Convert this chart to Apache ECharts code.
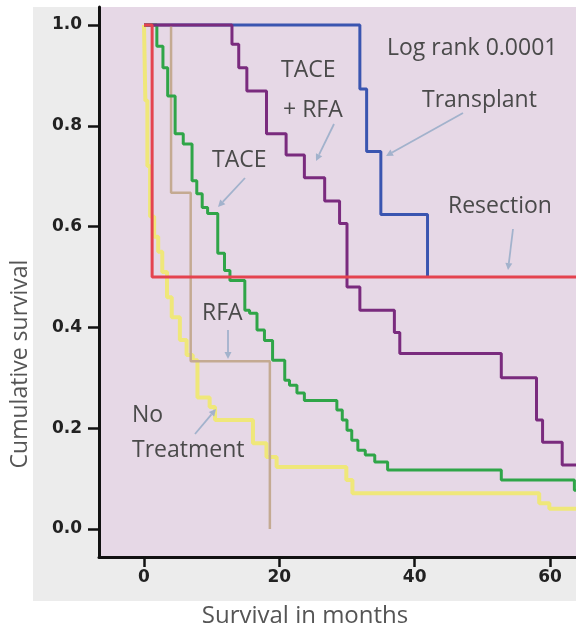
<!DOCTYPE html>
<html>
<head>
<meta charset="utf-8">
<script src="https://cdn.jsdelivr.net/npm/echarts@6/dist/echarts.min.js"></script>
<style>html,body{margin:0;padding:0;background:#fff}#c{width:576px;height:629px}</style>
</head>
<body>
<div id="c"></div>
<script>
// ---- data (months, cumulative survival) ----
const xTicks = [0, 20, 40, 60];
const yTicks = [0, 0.2, 0.4, 0.6, 0.8, 1.0];

const transplantT = [0, 31.9, 32.9, 35.0, 41.9];
const transplantS = [1, 0.873, 0.749, 0.624, 0.5];

const resectionT = [0, 1.2, 63.84];
const resectionS = [1, 0.5, 0.5];

const taceRfaT = [0, 13.0, 14.0, 15.2, 18.1, 21.0, 23.7, 26.7, 28.9, 30.0, 31.9, 37.0, 37.8, 52.8, 58.0, 58.9, 61.8, 63.84];
const taceRfaS = [1, 0.962, 0.915, 0.869, 0.784, 0.742, 0.697, 0.651, 0.606, 0.48, 0.434, 0.39, 0.348, 0.30, 0.216, 0.172, 0.127, 0.127];

const taceT = [0, 1.9, 2.8, 3.5, 4.6, 5.8, 7.1, 7.8, 8.6, 9.4, 10.9, 11.9, 12.7, 14.9, 15.6, 16.7, 17.8, 19.0, 20.8, 21.5, 22.6, 23.7, 28.5, 29.3, 30.0, 30.7, 31.6, 32.7, 34.1, 36.0, 52.8, 63.6, 63.84];
const taceS = [1, 0.958, 0.915, 0.859, 0.784, 0.764, 0.691, 0.665, 0.638, 0.626, 0.547, 0.513, 0.493, 0.434, 0.428, 0.395, 0.374, 0.335, 0.295, 0.285, 0.27, 0.255, 0.236, 0.216, 0.196, 0.176, 0.156, 0.147, 0.133, 0.117, 0.097, 0.077, 0.077];

const rfaT = [0, 4.0, 6.9, 18.6];
const rfaS = [1, 0.667, 0.333, 0];

const noTxT = [0, 0.2, 0.5, 0.9, 1.5, 2.1, 2.7, 3.4, 4.1, 5.3, 6.3, 7.2, 7.9, 9.7, 10.5, 16.1, 18.1, 19.6, 29.9, 30.8, 58.4, 59.9, 61.5, 63.84];
const noTxS = [1, 0.85, 0.72, 0.62, 0.58, 0.55, 0.51, 0.46, 0.42, 0.375, 0.345, 0.335, 0.261, 0.242, 0.216, 0.17, 0.143, 0.123, 0.097, 0.071, 0.051, 0.04, 0.04, 0.04];

const zip = (t, s) => t.map((v, i) => [v, s[i]]);

const chart = echarts.init(document.getElementById('c'), null, {renderer: 'canvas'});

const textColor = '#4a4a4a';
const arrowColor = '#a2b2cc';

function arrow(x1, y1, x2, y2) {
  const a = Math.atan2(y2 - y1, x2 - x1);
  const L = 7, W = 3.5;
  const bx = x2 - L * Math.cos(a), by = y2 - L * Math.sin(a);
  const px = -Math.sin(a) * W, py = Math.cos(a) * W;
  return [
    {type: 'line', shape: {x1, y1, x2: bx, y2: by}, style: {stroke: arrowColor, lineWidth: 1.8}, z: 50},
    {type: 'polygon', shape: {points: [[x2, y2], [bx + px, by + py], [bx - px, by - py]]}, style: {fill: arrowColor}, z: 50}
  ];
}

function label(text, x, y, size) {
  return {type: 'text', x, y, style: {text, fill: textColor, font: (size || 23) + 'px "Open Sans", sans-serif', textAlign: 'left', textVerticalAlign: 'middle'}, z: 60};
}

const graphics = [
  {type: 'rect', shape: {x: 33, y: 7, width: 543, height: 594}, style: {fill: '#ececec'}, z: -100},
  label('Log rank 0.0001', 387, 48),
  label('Transplant', 422, 100),
  label('TACE', 281, 70),
  label('+ RFA', 283, 110),
  label('TACE', 212, 160),
  label('Resection', 448, 206),
  label('RFA', 202, 313),
  label('No', 132, 415),
  label('Treatment', 132, 450),
  ...arrow(463, 113, 386, 156),
  ...arrow(334, 124, 316, 161),
  ...arrow(245, 178, 218, 207),
  ...arrow(513, 229, 508, 270),
  ...arrow(228, 330, 228, 359),
  ...arrow(195, 434, 216, 409),
  {type: 'text', x: 20, y: 364, rotation: Math.PI / 2, style: {text: 'Cumulative survival', fill: '#555', font: '23px "Open Sans", sans-serif', textAlign: 'center', textVerticalAlign: 'middle'}},
  {type: 'text', x: 305, y: 616, style: {text: 'Survival in months', fill: '#555', font: '24px "Open Sans", sans-serif', textAlign: 'center', textVerticalAlign: 'middle'}}
];

function line(name, t, s, color, width) {
  return {
    name, type: 'line', step: 'end', data: zip(t, s), symbol: 'none', silent: true,
    lineStyle: {color, width: width || 3}, clip: true, animation: false
  };
}

chart.setOption({
  animation: false,
  backgroundColor: '#ffffff',
  grid: {left: 99, right: 0, top: 7, bottom: 72, show: true, backgroundColor: '#e6d8e6', borderWidth: 0, containLabel: false},
  xAxis: {
    type: 'value', min: -6.65, max: 63.84,
    axisLine: {show: true, onZero: false, lineStyle: {color: '#111', width: 3}},
    axisTick: {show: true, inside: false, length: 10, lineStyle: {color: '#111', width: 2.5}, customValues: xTicks},
    axisLabel: {show: true, margin: 12, color: '#222', fontWeight: 'bold', fontSize: 17, fontFamily: 'DejaVu Sans', customValues: xTicks},
    splitLine: {show: false}
  },
  yAxis: {
    type: 'value', min: -0.0556, max: 1.0357,
    axisLine: {show: true, onZero: false, lineStyle: {color: '#111', width: 3}},
    axisTick: {show: true, inside: false, length: 11, lineStyle: {color: '#111', width: 2.5}, customValues: yTicks},
    axisLabel: {show: true, margin: 17, color: '#222', fontWeight: 'bold', fontSize: 17, fontFamily: 'DejaVu Sans', customValues: yTicks, formatter: v => v.toFixed(1)},
    splitLine: {show: false}
  },
  series: [
    line('Transplant', transplantT, transplantS, '#3a55b0', 3),
    line('No Treatment', noTxT, noTxS, '#efe77a', 4),
    line('RFA', rfaT, rfaS, '#c4aa92', 2.5),
    line('TACE', taceT, taceS, '#2fa548', 3),
    line('TACE + RFA', taceRfaT, taceRfaS, '#7a2b7e', 3),
    line('Resection', resectionT, resectionS, '#e4434f', 3)
  ],
  graphic: graphics
});
</script>
</body>
</html>
